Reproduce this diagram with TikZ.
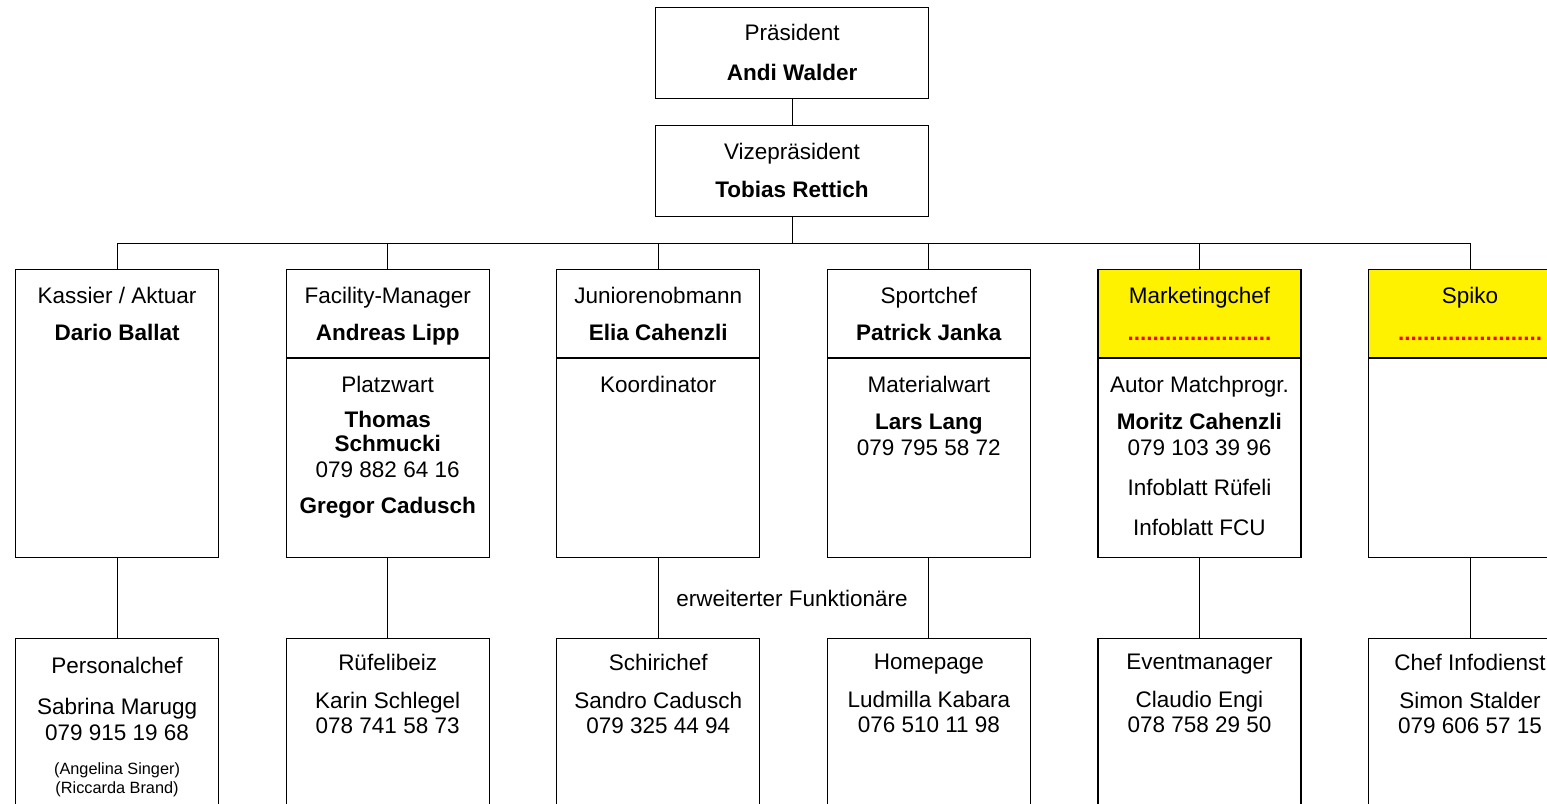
\documentclass[tikz,border=0pt]{standalone}
\usepackage{fontspec}
\setmainfont{Liberation Sans}
\usetikzlibrary{positioning, backgrounds}
\tikzstyle{headbox} = [rectangle, draw=black, line width=1.1pt, minimum width=273pt, minimum height=91pt, inner sep=0pt]
\tikzstyle{postbox} = [rectangle, draw=black, line width=1.1pt, minimum width=203pt, minimum height=288pt, inner sep=0pt]
\tikzstyle{txt} = [align=center, inner sep=0pt, font=\fontsize{22.5}{24.5}\selectfont]
\tikzstyle{note} = [align=center, inner sep=0pt, font=\fontsize{16.3}{19}\selectfont]
\tikzstyle{conn} = [line width=1.1pt]
\newcommand{\vakant}{{\color{red}\bfseries .......................}}

\begin{document}
\begin{tikzpicture}[x=1pt, y=1pt, node distance=66.5pt]
\useasboundingbox (0,0) rectangle (1547,-803);
\clip (0,0) rectangle (1547,-803);

\node (praes) [headbox, anchor=north west] at (655,-6.5) {};
\node (vize) [headbox, below=25.9pt of praes] {};

\node (kassier) [postbox, anchor=north west] at (15,-269) {};
\node (facility) [postbox, right=of kassier] {};
\node (junioren) [postbox, right=of facility] {};
\node (sport) [postbox, right=of junioren] {};
\node (marketing) [postbox, right=of sport] {};
\node (spiko) [postbox, right=of marketing] {};

\node (personal) [postbox, below=80pt of kassier] {};
\node (beiz) [postbox, below=80pt of facility] {};
\node (schiri) [postbox, below=80pt of junioren] {};
\node (homepage) [postbox, below=80pt of sport] {};
\node (event) [postbox, below=80pt of marketing] {};
\node (info) [postbox, below=80pt of spiko] {};

% yellow heads of the vacant posts
\begin{scope}[on background layer]
\fill[white] (0,0) rectangle (1547,-803);
\fill[yellow] (marketing.north west) rectangle ([yshift=-89pt]marketing.north east);
\fill[yellow] (spiko.north west) rectangle ([yshift=-89pt]spiko.north east);
\end{scope}

\foreach \b in {facility,junioren,sport,marketing,spiko}
  \draw [conn] ([yshift=-89pt]\b.north west) -- ([yshift=-89pt]\b.north east);

% texts
\node (praes-t) [txt, below=17.5pt of praes.north] {Präsident\\[15pt]\textbf{Andi Walder}};
\node (vize-t) [txt, below=18.5pt of vize.north] {Vizepräsident\\[13pt]\textbf{Tobias Rettich}};

\node (kassier-t) [txt, below=18pt of kassier.north] {Kassier / Aktuar\\[12pt]\textbf{Dario Ballat}};
\node (facility-t) [txt, below=18pt of facility.north] {Facility-Manager\\[12pt]\textbf{Andreas Lipp}};
\node (facility-u) [txt, below=107pt of facility.north] {Platzwart\\[10.5pt]\textbf{Thomas}\\[-1pt]\textbf{Schmucki}\\[1.5pt]079 882 64 16\\[12pt]\textbf{Gregor Cadusch}};
\node (junioren-t) [txt, below=18pt of junioren.north] {Juniorenobmann\\[12pt]\textbf{Elia Cahenzli}};
\node (junioren-u) [txt, below=107pt of junioren.north] {Koordinator};
\node (sport-t) [txt, below=18pt of sport.north] {Sportchef\\[12pt]\textbf{Patrick Janka}};
\node (sport-u) [txt, below=107pt of sport.north] {Materialwart\\[12pt]\textbf{Lars Lang}\\[1.5pt]079 795 58 72};
\node (marketing-t) [txt, below=18pt of marketing.north] {Marketingchef\\[12pt]\vakant};
\node (marketing-u) [txt, below=107pt of marketing.north] {Autor Matchprogr.\\[12pt]\textbf{Moritz Cahenzli}\\[1.5pt]079 103 39 96\\[15.5pt]Infoblatt Rüfeli\\[15.5pt]Infoblatt FCU};
\node (spiko-t) [txt, below=18pt of spiko.north] {Spiko\\[12pt]\vakant};

\node (funktionaere) [txt] at (792,-598) {erweiterter Funktionäre};

\node (personal-t) [txt, below=19pt of personal.north] {Personalchef\\[16pt]Sabrina Marugg\\[1.5pt]079 915 19 68};
\node (personal-n) [note, below=124pt of personal.north] {(Angelina Singer)\\(Riccarda Brand)};
\node (beiz-t) [txt, below=16pt of beiz.north] {Rüfelibeiz\\[13pt]Karin Schlegel\\[1pt]078 741 58 73};
\node (schiri-t) [txt, below=16pt of schiri.north] {Schirichef\\[13pt]Sandro Cadusch\\[1pt]079 325 44 94};
\node (homepage-t) [txt, below=16pt of homepage.north] {Homepage\\[13pt]Ludmilla Kabara\\[1pt]076 510 11 98};
\node (event-t) [txt, below=16pt of event.north] {Eventmanager\\[13pt]Claudio Engi\\[1pt]078 758 29 50};
\node (info-t) [txt, below=16pt of info.north] {Chef Infodienst\\[13pt]Simon Stalder\\[1pt]079 606 57 15};

% connectors
\draw [conn] (praes.south) -- (vize.north);
\coordinate (bus) at ([yshift=-27pt]vize.south);
\foreach \b in {kassier,facility,junioren,sport,marketing,spiko}
  \draw [conn] (vize.south) -- (bus) -| (\b.north);
\foreach \a/\b in {kassier/personal,facility/beiz,junioren/schiri,sport/homepage,marketing/event,spiko/info}
  \draw [conn] (\a.south) -- (\b.north);

\end{tikzpicture}
\end{document}
